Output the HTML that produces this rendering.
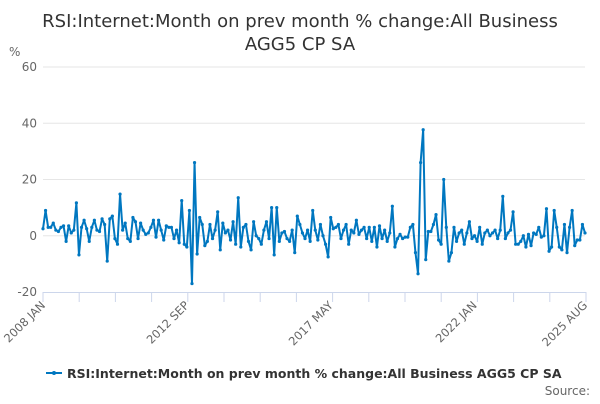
<!DOCTYPE html>
<html><head><meta charset="utf-8"><style>
body{margin:0;background:#fff;font-family:"DejaVu Sans",sans-serif}
svg text{font-family:"DejaVu Sans","Liberation Sans",sans-serif}
</style></head><body>
<svg id="chart" width="600" height="400">
<text x="300" y="27" text-anchor="middle" font-size="18" fill="#333">RSI:Internet:Month on prev month % change:All Business</text>
<text x="300" y="50" text-anchor="middle" font-size="18" fill="#333">AGG5 CP SA</text>
<text x="9" y="56" font-size="12" fill="#666">%</text>
<g id="grid"></g><g id="xaxis"></g><g id="series"></g>
<g>
<line x1="46" y1="373" x2="62" y2="373" stroke="#0077c0" stroke-width="2"/>
<circle cx="54" cy="373" r="2" fill="#0077c0"/>
<text x="67" y="378" font-size="12.5" font-weight="bold" fill="#333">RSI:Internet:Month on prev month % change:All Business AGG5 CP SA</text>
</g>
<text x="590" y="395" text-anchor="end" font-size="12" fill="#666">Source:</text>
</svg>
<script>
const yTicks=[60,40,20,0,-20];
const xTickLabels=["2008 JAN","2012 SEP","2017 MAY","2022 JAN","2025 AUG"];
const xTickLabelIdx=[0,56,112,168,211];
const values=[2.5,9,3,3,4.5,2,1.5,3,3.5,-2,3.5,1,2,11.7,-6.8,3,5.5,2.5,-2,3,5.5,2,1.5,6,4,-9,6,7,-1,-3,
14.8,2,4.5,-1,-2,6.5,5,-1,4.5,2,0.5,1,3,5.5,-0.5,5.5,2,-1.5,3.5,3,3,-1,2,-2.5,12.5,-3,-4,9,-17,26,
-6.5,6.5,4,-3.5,-2,4,-1,2,8.5,-5,4.5,1,2,-1.5,5,-3,13.5,-4,3,4,-2,-5,5,0,-1,-3,2,5,-1,10,
-6.8,10,-2,1,1.5,-1,-2,2,-6,7,4,1,-1,2,-2,9,2,-1.5,4,0,-3,-7.5,6.5,2.5,3,4,-1,2,4,-3,
2,1,5.5,0.5,2,3,-1,3,-2,3,-4,3.5,-1,2,-2,1,10.5,-4,-1,0.5,-1,-0.5,-0.5,3,4,-6,-13.5,26,37.7,-8.5,
1.5,1.5,4,7.5,-1.5,-3,20,3,-9,-6,3,-2,1,2,-3,1,5,-1,0,-2,3,-3,1,2,0,1,2,-1,2,14,
-1,1,2,8.5,-3,-3,-2,0,-4,0.5,-3.5,1,0.5,3,-0.5,0,9.6,-5.5,-4,9,3,-4,-5,4,-6,3,9,-3.5,-1.5,-1.5,
4,1];
const L=43,R=585,T=67,B=292,ymin=-20,ymax=60;
const X=i=>L+(R-L)*i/(values.length-1);
const Y=v=>B-(v-ymin)/(ymax-ymin)*(B-T);
const ns="http://www.w3.org/2000/svg";
const mk=(t,a,p)=>{const e=document.createElementNS(ns,t);for(const k in a)e.setAttribute(k,a[k]);p.appendChild(e);return e;};
const grid=document.getElementById('grid');
yTicks.forEach(v=>{
 if(v!==ymin){const g=mk('line',{x1:L,x2:R,y1:Y(v),y2:Y(v),stroke:'#e6e6e6','stroke-width':1},grid);
 
 }
 const t=mk('text',{x:37,y:Y(v)+4,'text-anchor':'end','font-size':12,fill:'#666'},grid);t.textContent=v;
 
 
});
const xa=document.getElementById('xaxis');
const ax=mk('line',{x1:L,x2:R+1,y1:B+0.5,y2:B+0.5,stroke:'#ccd6eb'},xa);


for(let k=0;k<=15;k++){const x=L+(R+1-L)*k/15;const tk=mk('line',{x1:x,x2:x,y1:B,y2:B+10,stroke:'#ccd6eb'},xa);
 
 }
xTickLabels.forEach((s,j)=>{const x=X(xTickLabelIdx[j])+3;
 const t=mk('text',{x:x,y:B+14,'text-anchor':'end','font-size':11.5,fill:'#666',transform:`rotate(-45 ${x} ${B+14})`},xa);t.textContent=s;
 
 });
const sg=document.getElementById('series');
const pl=mk('polyline',{points:values.map((v,i)=>X(i)+','+Y(v)).join(' '),fill:'none',stroke:'#0077c0','stroke-width':2,'stroke-linejoin':'round'},sg);


values.forEach((v,i)=>{const c=mk('circle',{cx:X(i),cy:Y(v),r:1.6,fill:'#0077c0'},sg);
 
 });
</script>
</body></html>
